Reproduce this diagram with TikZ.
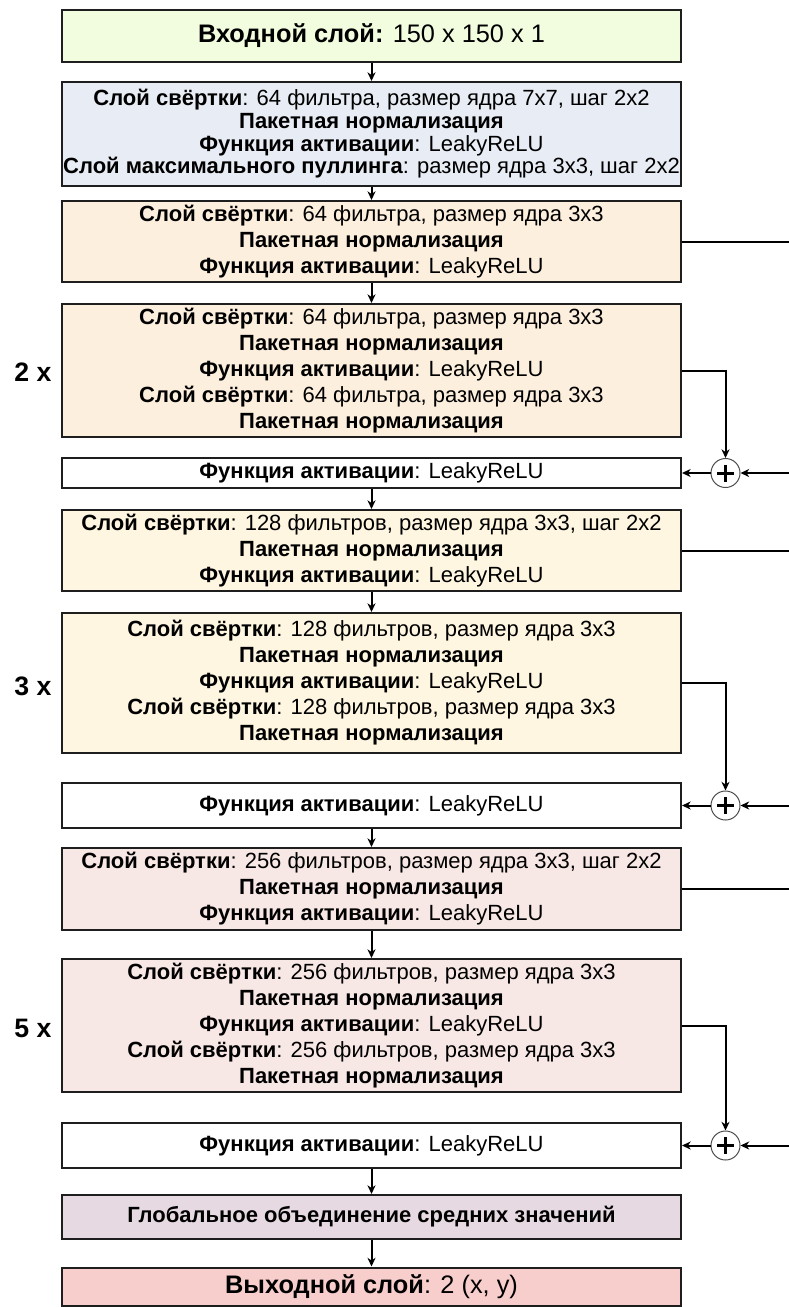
\documentclass[tikz,border=0pt]{standalone}
\usepackage{fontspec}
\setmainfont{Liberation Sans}
\usepackage{tikz}
\usetikzlibrary{arrows.meta,calc,positioning}
\definecolor{Ink}{HTML}{1E1E1E}
\definecolor{InGreen}{HTML}{F2FCDF}
\definecolor{StemBlue}{HTML}{E8ECF4}
\definecolor{StageOne}{HTML}{FDEFDD}
\definecolor{StageTwo}{HTML}{FEF6E0}
\definecolor{StageThree}{HTML}{F8E8E5}
\definecolor{PoolMauve}{HTML}{E6D9E1}
\definecolor{OutRed}{HTML}{F8CECC}
\newlength{\pu}\setlength{\pu}{0.75pt}
\newcommand{\convl}[1]{\textbf{Слой свёртки}: #1}
\newcommand{\bnorm}{\textbf{Пакетная нормализация}}
\newcommand{\actfn}{\textbf{Функция активации}: LeakyReLU}

\begin{document}
\begin{tikzpicture}[x=0.75pt,y=-0.75pt,
    layer/.style={draw=Ink,line width=1.5pt,minimum width=619\pu,align=center,inner sep=1pt,
      font=\fontsize{16.5}{19.5}\selectfont},
    tight/.style={font=\fontsize{16.5}{17}\selectfont},
    bigtext/.style={font=\fontsize{19}{22}\selectfont},
    reps/.style={font=\fontsize{20}{22}\bfseries,anchor=center},
    conn/.style={draw=black,line width=1.5pt},
    flow/.style={conn,-{Stealth[length=6.5pt,width=6pt,inset=2pt]}},
    sum/.style={circle,draw=black!70,line width=0.75pt,fill=white,minimum size=29\pu,inner sep=0pt,
      path picture={\draw[line width=2.25pt,black]
        ($(path picture bounding box.center)+(-8.5,0)$) -- ++(17,0)
        ($(path picture bounding box.center)+(0,-8.5)$) -- ++(0,17);}}]
  \useasboundingbox (0,0) rectangle (789,1307);
  \clip (0,0) rectangle (789,1307);

  % main column
  \node[layer,bigtext,fill=InGreen,minimum height=52\pu] (inp) at (371.5,36)
    {\textbf{Входной слой:} 150 x 150 x 1};
  \node[layer,tight,fill=StemBlue,minimum height=104\pu] (stem) at (371.5,134)
    {\convl{64 фильтра, размер ядра 7x7, шаг 2x2}\\ \bnorm\\ \actfn\\
     \textbf{Слой максимального пуллинга}: размер ядра 3x3, шаг 2x2};
  \node[layer,fill=StageOne,minimum height=81\pu] (downA) at (371.5,241.5)
    {\convl{64 фильтра, размер ядра 3x3}\\ \bnorm\\ \actfn};
  \node[layer,fill=StageOne,minimum height=133\pu] (resA) at (371.5,370.5)
    {\convl{64 фильтра, размер ядра 3x3}\\ \bnorm\\ \actfn\\
     \convl{64 фильтра, размер ядра 3x3}\\ \bnorm};
  \node[layer,fill=white,minimum height=30\pu] (actA) at (371.5,473) {\actfn};
  \node[layer,fill=StageTwo,minimum height=81\pu] (downB) at (371.5,550.5)
    {\convl{128 фильтров, размер ядра 3x3, шаг 2x2}\\ \bnorm\\ \actfn};
  \node[layer,fill=StageTwo,minimum height=140\pu] (resB) at (371.5,683)
    {\convl{128 фильтров, размер ядра 3x3}\\ \bnorm\\ \actfn\\
     \convl{128 фильтров, размер ядра 3x3}\\ \bnorm};
  \node[layer,fill=white,minimum height=45\pu] (actB) at (371.5,805.5) {\actfn};
  \node[layer,fill=StageThree,minimum height=82\pu] (downC) at (371.5,889)
    {\convl{256 фильтров, размер ядра 3x3, шаг 2x2}\\ \bnorm\\ \actfn};
  \node[layer,fill=StageThree,minimum height=133\pu] (resC) at (371.5,1025.5)
    {\convl{256 фильтров, размер ядра 3x3}\\ \bnorm\\ \actfn\\
     \convl{256 фильтров, размер ядра 3x3}\\ \bnorm};
  \node[layer,fill=white,minimum height=45\pu] (actC) at (371.5,1145.5) {\actfn};
  \node[layer,fill=PoolMauve,minimum height=44\pu] (gap) at (371.5,1217)
    {\textbf{Глобальное объединение средних значений}};
  \node[layer,bigtext,fill=OutRed,minimum height=38\pu] (out) at (371.5,1286.5)
    {\textbf{Выходной слой}: 2 (x, y)};

  % repeat counts
  \node[reps] (repA) at (33,372) {2 x};
  \node[reps] (repB) at (33,686) {3 x};
  \node[reps] (repC) at (33,1028) {5 x};

  % adders
  \node[sum] (sumA) at (725.5,473) {};
  \node[sum] (sumB) at (725.5,805.5) {};
  \node[sum] (sumC) at (725.5,1145.5) {};
  \coordinate (edge) at (800,0);

  \foreach \a/\b in {inp/stem,stem/downA,downA/resA,actA/downB,downB/resB,
                     actB/downC,downC/resC,actC/gap,gap/out}
    \draw[flow] (\a.south) -- (\b.north);

  % shortcuts
  \foreach \d/\r/\s/\t in {downA/resA/sumA/actA,downB/resB/sumB/actB,downC/resC/sumC/actC}{
    \draw[flow] (\r.east) -| (\s.north);
    \draw[flow] (\d.east) -- (\d.east -| edge) |- (\s.east);
    \draw[flow] (\s.west) -- (\t.east);
  }
\end{tikzpicture}
\end{document}
